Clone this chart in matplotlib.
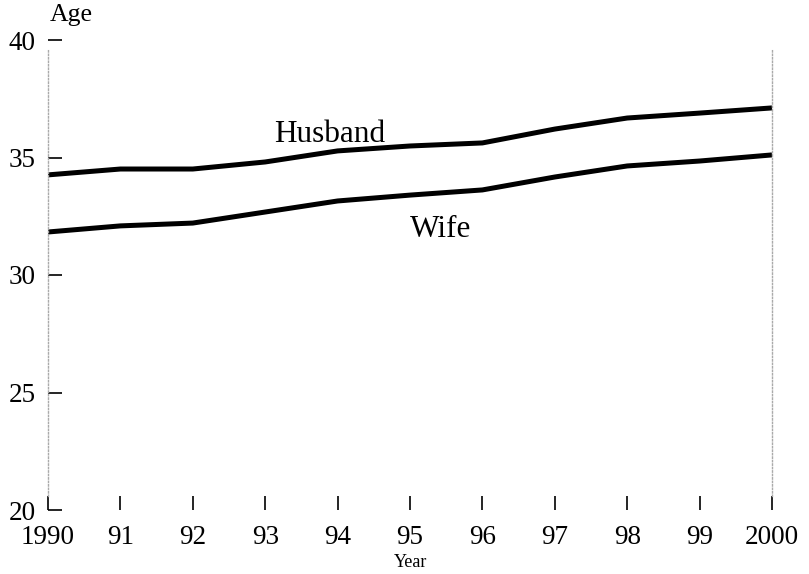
import matplotlib.pyplot as plt

plt.rcParams['font.family'] = ['Liberation Serif', 'DejaVu Serif']

years = [1990, 1991, 1992, 1993, 1994, 1995, 1996, 1997, 1998, 1999, 2000]
year_labels = ['1990', '91', '92', '93', '94', '95', '96', '97', '98', '99', '2000']
husband = [34.26, 34.51, 34.51, 34.81, 35.28, 35.49, 35.62, 36.21, 36.68, 36.89, 37.11]
wife = [31.83, 32.09, 32.21, 32.68, 33.15, 33.40, 33.62, 34.17, 34.64, 34.85, 35.11]
age_ticks = [20, 25, 30, 35, 40]

fig = plt.figure(figsize=(8.09, 5.74), dpi=100)
ax = fig.add_axes([48 / 809, 64 / 574, 724 / 809, 470 / 574])

ax.plot(years, husband, color='black', lw=3.6, solid_capstyle='butt')
ax.plot(years, wife, color='black', lw=3.6, solid_capstyle='butt')

ax.set_xlim(1990, 2000)
ax.set_ylim(20, 40)

# no box, just dotted side lines
for s in ['top', 'bottom']:
    ax.spines[s].set_visible(False)
for s in ['left', 'right']:
    ax.spines[s].set_linestyle((0, (1, 1.5)))
    ax.spines[s].set_color('#aaaaaa')
    ax.spines[s].set_linewidth(1)
    ax.spines[s].set_bounds(20.6, 39.6)

ax.set_xticks(years)
ax.set_xticklabels(year_labels, fontsize=19.5)
ax.set_yticks(age_ticks)
ax.set_yticklabels([str(a) for a in age_ticks], fontsize=19.5)
ax.tick_params(axis='x', direction='in', length=10, width=1.2, pad=11)
ax.tick_params(axis='y', direction='in', length=10, width=1.2, pad=9)

ax.text(1990.03, 40.6, 'Age', fontsize=18.5, ha='left', va='bottom')
fig.text(411 / 809, 7 / 574, 'Year', fontsize=13, ha='center', va='baseline')
ax.text(1993.12, 35.35, 'Husband', fontsize=22.5, ha='left', va='bottom')
ax.text(1995, 31.32, 'Wife', fontsize=22.5, ha='left', va='bottom')

fig.savefig('out.png', dpi=100)
